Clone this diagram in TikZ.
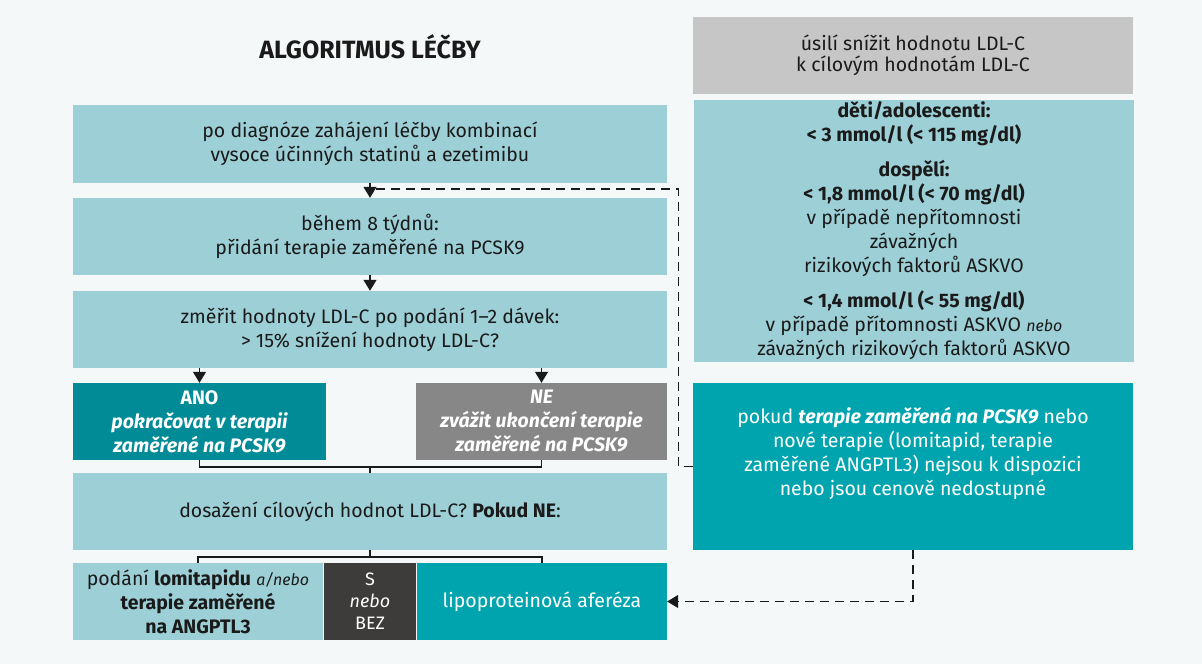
\documentclass[tikz,border=0pt]{standalone}
\usepackage{fontspec}
\setmainfont{Fira Sans}
\usetikzlibrary{arrows.meta}
\definecolor{bg}{HTML}{F4F8F8}
\definecolor{lteal}{HTML}{9DCFD6}
\definecolor{dteal}{HTML}{008B96}
\definecolor{teal2}{HTML}{00A4AF}
\definecolor{negray}{HTML}{878787}
\definecolor{topgray}{HTML}{C6C6C6}
\definecolor{darkbox}{HTML}{3D3C3B}
\definecolor{txt}{HTML}{1A1A1A}
\begin{document}
\begin{tikzpicture}[x=1pt,y=-1pt,
  box/.style={rectangle, inner sep=0pt, minimum height=77pt, align=center,
    font=\fontsize{19.5}{24}\selectfont, text=txt},
  wide/.style={box, fill=lteal, minimum width=594pt},
  tip/.style={-{Triangle[width=13pt,length=11pt]}},
  arr/.style={tip, line width=1.3pt, draw=txt},
  conn/.style={line width=1.3pt, draw=txt},
  dsh/.style={line width=1.3pt, draw=txt, dash pattern=on 9pt off 6pt}]
\fill[bg] (0,0) rectangle (1202,664);
\useasboundingbox (0,0) rectangle (1202,664);

% title
\node[font=\fontsize{25}{28}\selectfont\bfseries, text=txt] (title) at (370,47) {ALGORITMUS LÉČBY};

% left column
\node[wide, minimum height=78pt] (b1) at (370,144) {po diagnóze zahájení léčby kombinací\\vysoce účinných statinů a ezetimibu};
\node[wide] (b2) at (370,236.5) {během 8 týdnů:\\přidání terapie zaměřené na PCSK9};
\node[wide] (b3) at (370,329.5) {změřit hodnoty LDL-C po podání 1–2 dávek:\\> 15\% snížení hodnoty LDL-C?};
\node[box, fill=dteal, text=white, minimum width=253pt, font=\fontsize{19.5}{24}\selectfont\bfseries] (ano) at (199.5,421.5)
  {ANO\\\itshape pokračovat v terapii\\\itshape zaměřené na PCSK9};
\node[box, fill=negray, text=white, minimum width=251pt, font=\fontsize{19.5}{24}\selectfont\bfseries\itshape] (ne) at (541.5,421.5)
  {NE\\zvážit ukončení terapie\\zaměřené na PCSK9};
\node[wide] (b4) at (370,511.5) {dosažení cílových hodnot LDL-C? \textbf{Pokud NE}:};
\node[box, fill=lteal, minimum width=250pt] (lom) at (198,601.5)
  {podání \textbf{lomitapidu} {\fontsize{16}{24}\selectfont\itshape a/nebo}\\\textbf{terapie zaměřené}\\\textbf{na ANGPTL3}};
\node[box, fill=darkbox, text=white, minimum width=92pt, font=\fontsize{18}{22}\selectfont] (sb) at (370,601.5)
  {S\\\itshape nebo\\BEZ};
\node[box, fill=teal2, text=white, minimum width=250pt] (aph) at (542,601.5) {lipoproteinová aferéza};

% right column
\node[box, fill=topgray, minimum width=440pt, font=\fontsize{19.5}{21}\selectfont] (goal) at (913,55) {úsilí snížit hodnotu LDL-C\\k cílovým hodnotám LDL-C};
\node[box, fill=lteal, minimum width=440pt, minimum height=262pt] (tgt) at (914,231)
  {\textbf{děti/adolescenti:}\\\textbf{< 3 mmol/l (< 115 mg/dl)}\\[11pt]
   \textbf{dospělí:}\\\textbf{< 1,8 mmol/l (< 70 mg/dl)}\\v případě nepřítomnosti\\závažných\\rizikových faktorů ASKVO\\[11pt]
   \textbf{< 1,4 mmol/l (< 55 mg/dl)}\\v případě přítomnosti ASKVO {\fontsize{16}{24}\selectfont\itshape nebo}\\závažných rizikových faktorů ASKVO};
\node[box, fill=teal2, minimum width=440pt, minimum height=167pt] (alt) at (913,466.5) {};
\node[box, text=white] (alttxt) at (913,453)
  {pokud \textbf{\itshape terapie zaměřená na PCSK9} nebo\\nové terapie (lomitapid, terapie\\zaměřené ANGPTL3) nejsou k dispozici\\nebo jsou cenově nedostupné};

% connectors
\coordinate (j1) at (370,189);
\coordinate (c1) at (370,467);
\coordinate (c2) at (370,557);
\draw[arr] (b1.south) -- (b2.north);
\draw[arr] (b2.south) -- (b3.north);
\draw[arr] (ano.north |- b3.south) -- (ano.north);
\draw[arr] (ne.north |- b3.south) -- (ne.north);
\draw[conn] (ano.south) |- (c1) -| (ne.south);
\draw[conn] (c1) -- (b4.north);
\draw[conn] (b4.south) -- (c2);
\draw[conn] (lom.north) |- (c2) -| (aph.north);
\draw[dsh] (alt.west) -- ++(-14,0) |- (j1);
\draw[dsh, tip] (alt.south) |- (aph.east);
\end{tikzpicture}
\end{document}
